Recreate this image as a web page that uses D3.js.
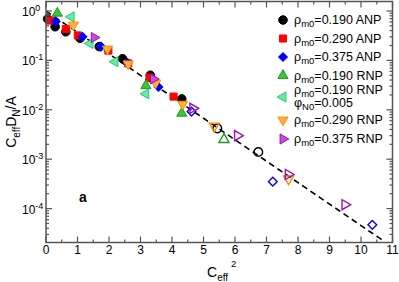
<!DOCTYPE html>
<html>
<head>
<meta charset="utf-8">
<script src="https://cdn.jsdelivr.net/npm/d3@7"></script>
<style>
  body { margin: 0; background: #fff; }
  svg { display: block; font-family: "Liberation Sans", Arial, sans-serif; }
</style>
</head>
<body>
<svg width="399" height="282"></svg>
<script>
// data: [Ceff^2, Ceff*DN/A]
const anp190 = [[0.05, 0.69], [0.29, 0.48], [0.63, 0.38], [1.08, 0.28], [1.69, 0.19], [2.43, 0.108], [3.31, 0.050], [4.31, 0.0166]];
const anp190Open = [[5.44, 0.0042], [6.74, 0.0014]];
const anp290 = [[0.13, 0.64], [0.63, 0.43], [1.01, 0.32], [1.98, 0.158], [2.61, 0.087], [3.29, 0.045], [4.05, 0.0185]];
const anp375 = [[0.31, 0.61], [1.16, 0.30], [1.75, 0.19], [2.59, 0.089], [3.57, 0.029]];
const anp375Open = [[4.62, 0.0092], [7.2, 3.5e-4], [10.36, 4.7e-5]];
const rnp190 = [[0.36, 0.90], [3.17, 0.031], [4.31, 0.0085]];
const rnp190Open = [[5.65, 0.0025]];
const rnp190phi = [[0.80, 0.76], [1.40, 0.22], [2.19, 0.094], [3.17, 0.021]];
const rnp290 = [[0.87, 0.52], [1.95, 0.17], [2.61, 0.085], [3.48, 0.035], [4.34, 0.013]];
const rnp290Open = [[5.34, 0.0047], [7.70, 4.0e-4]];
const rnp375 = [[1.53, 0.29], [3.41, 0.042]];
const rnp375Open = [[4.66, 0.0107], [6.08, 0.0030], [7.69, 4.9e-4], [9.49, 1.2e-4]];

const legendLabels = ["0.190 ANP", "0.290 ANP", "0.375 ANP", "0.190 RNP", "0.190 RNP", "0.290 RNP", "0.375 RNP"];
const xTicks = [0, 1, 2, 3, 4, 5, 6, 7, 8, 9, 10, 11];
const yTicks = [0, -1, -2, -3, -4];

const svg = d3.select("svg");
const x = d3.scaleLinear().domain([0, 11]).range([46, 392.5]);
const y = d3.scaleLog().domain([2.06e-5, 1.556]).range([242.5, 1.5]);

const axisColor = "#555";

// series styles
const styles = [
  {data: anp190, open: anp190Open, shape: d3.symbolCircle, rot: 0, size: 58, color: "#000", fill: "#000"},
  {data: anp290, open: [], shape: d3.symbolSquare, rot: 0, size: 50, color: "#ff0000", fill: "#ff0000"},
  {data: anp375, open: anp375Open, shape: d3.symbolSquare, rot: 45, size: 38, color: "#0000ff", fill: "#0000ff"},
  {data: rnp190, open: rnp190Open, shape: d3.symbolTriangle, rot: 0, size: 44, color: "#1c9a1c", fill: "#3cc43c"},
  {data: rnp190phi, open: [], shape: d3.symbolTriangle, rot: -90, size: 44, color: "#1fcf70", fill: "#6fe6a6"},
  {data: rnp290, open: rnp290Open, shape: d3.symbolTriangle, rot: 180, size: 44, color: "#ff8c00", fill: "#ffb040"},
  {data: rnp375, open: rnp375Open, shape: d3.symbolTriangle, rot: 90, size: 44, color: "#a010b0", fill: "#c050d0"}
];

svg.append("clipPath").attr("id", "clip")
  .append("rect").attr("x", 46).attr("y", 1.5).attr("width", 346.5).attr("height", 241);

// dashed guide line exp(-Ceff^2)
const lineX = d3.range(0, 10.8, 0.1);
svg.append("path")
  .attr("clip-path", "url(#clip)")
  .attr("d", d3.line().x(d => x(d)).y(d => y(Math.exp(-d)))(lineX))
  .attr("fill", "none").attr("stroke", "#000").attr("stroke-width", 1.6)
  .attr("stroke-dasharray", "6,4");

// markers
styles.forEach(s => {
  const sym = d3.symbol().type(s.shape).size(s.size);
  const g = svg.append("g");
  g.selectAll(".f").data(s.data).enter().append("path")
    .attr("d", sym)
    .attr("transform", d => `translate(${x(d[0])},${y(d[1])}) rotate(${s.rot})`)
    .attr("fill", s.fill).attr("stroke", s.color).attr("stroke-width", 1);
  g.selectAll(".o").data(s.open).enter().append("path")
    .attr("d", sym)
    .attr("transform", d => `translate(${x(d[0])},${y(d[1])}) rotate(${s.rot})`)
    .attr("fill", "none").attr("stroke", s.color).attr("stroke-width", 1.4);
});

// frame
svg.append("rect").attr("x", 46).attr("y", 1.5).attr("width", 346.5).attr("height", 241)
  .attr("fill", "none").attr("stroke", axisColor).attr("stroke-width", 1.5);

// x ticks (inward, top and bottom)
const xt = svg.append("g").attr("stroke", axisColor).attr("stroke-width", 1.2);
d3.range(0, 11.01, 0.5).forEach(v => {
  const len = Number.isInteger(v) ? 6 : 3;
  xt.append("line").attr("x1", x(v)).attr("x2", x(v)).attr("y1", 242.5).attr("y2", 242.5 - len);
  xt.append("line").attr("x1", x(v)).attr("x2", x(v)).attr("y1", 1.5).attr("y2", 1.5 + len);
});
svg.append("g").selectAll("text").data(xTicks).enter().append("text")
  .attr("x", d => x(d)).attr("y", 253.5).attr("text-anchor", "middle")
  .attr("font-size", 12).attr("fill", "#000").text(d => d);

// y ticks (log, inward, left and right)
const yt = svg.append("g").attr("stroke", axisColor).attr("stroke-width", 1.2);
y.ticks().forEach(v => {
  if (v < 2.06e-5 || v > 1.556) return;
  const major = Math.abs(Math.log10(v) - Math.round(Math.log10(v))) < 1e-6;
  const len = major ? 6 : 3;
  yt.append("line").attr("x1", 46).attr("x2", 46 + len).attr("y1", y(v)).attr("y2", y(v));
  yt.append("line").attr("x1", 392.5).attr("x2", 392.5 - len).attr("y1", y(v)).attr("y2", y(v));
});
const ylab = svg.append("g").selectAll("text").data(yTicks).enter().append("text")
  .attr("x", 22).attr("y", d => y(Math.pow(10, d)) + 5)
  .attr("font-size", 12).attr("fill", "#000");
ylab.append("tspan").text("10");
ylab.append("tspan").attr("dy", -5).attr("font-size", 9).text(d => d === 0 ? "0" : "-" + (-d));

// axis titles
const xTitle = svg.append("text").attr("x", 207).attr("y", 277).attr("font-size", 14).attr("fill", "#000");
xTitle.append("tspan").text("C");
xTitle.append("tspan").attr("dy", 4).attr("font-size", 10).text("eff");
xTitle.append("tspan").attr("dy", -14).attr("dx", 3).attr("font-size", 9.5).text("2");

const yTitle = svg.append("text").attr("transform", "translate(16,122) rotate(-90)")
  .attr("text-anchor", "middle").attr("font-size", 14).attr("fill", "#000");
yTitle.append("tspan").text("C");
yTitle.append("tspan").attr("dy", 4).attr("font-size", 10).text("eff");
yTitle.append("tspan").attr("dy", -4).text("D");
yTitle.append("tspan").attr("dy", 4).attr("font-size", 10).text("N");
yTitle.append("tspan").attr("dy", -4).text("/A");

svg.append("text").attr("x", 79).attr("y", 202).attr("font-size", 14)
  .attr("font-weight", "bold").attr("fill", "#000").text("a");

// legend
const legendY = [20, 38.5, 57, 75.5, 97, 120, 139];
styles.forEach((s, i) => {
  const sym = d3.symbol().type(s.shape).size(s.size);
  svg.append("path").attr("d", sym)
    .attr("transform", `translate(283,${legendY[i]}) rotate(${s.rot})`)
    .attr("fill", s.fill).attr("stroke", s.color).attr("stroke-width", 1);
  const ty = i === 4 ? 90 : legendY[i];
  const t = svg.append("text").attr("x", 294).attr("y", ty + 4).attr("font-size", 12.5).attr("fill", "#000");
  t.append("tspan").text("ρ");
  t.append("tspan").attr("dy", 3).attr("font-size", 9.5).text("m0");
  t.append("tspan").attr("dy", -3).text("=" + legendLabels[i]);
  if (i === 4) {
    const t2 = svg.append("text").attr("x", 294).attr("y", 107).attr("font-size", 12.5).attr("fill", "#000");
    t2.append("tspan").text("φ");
    t2.append("tspan").attr("dy", 3).attr("font-size", 9.5).text("N0");
    t2.append("tspan").attr("dy", -3).text("=0.005");
  }
});
</script>
</body>
</html>
